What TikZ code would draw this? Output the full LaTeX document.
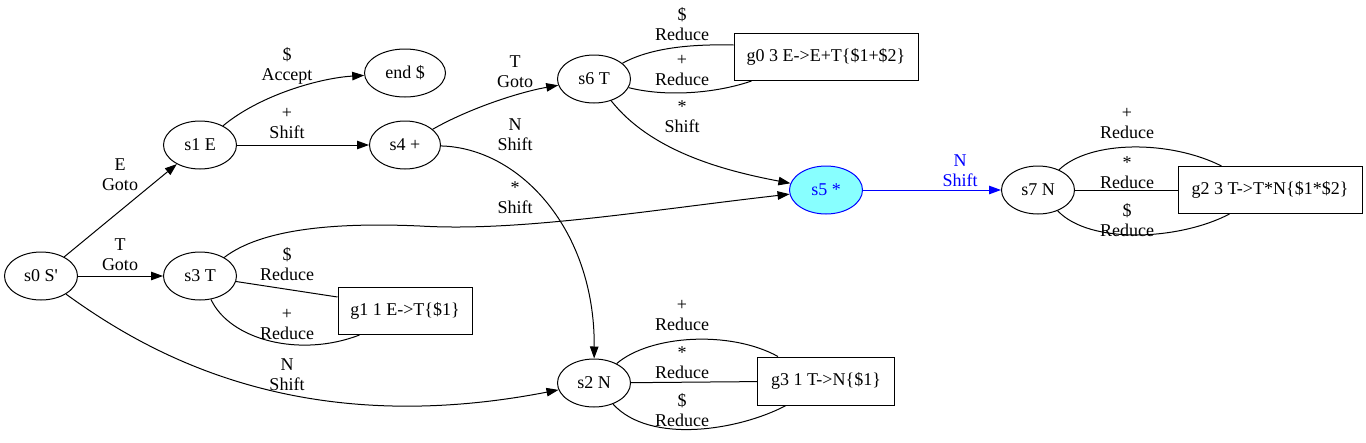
\documentclass[tikz,border=0pt]{standalone}
\usepackage{fontspec}
\setmainfont{Liberation Serif}
\usetikzlibrary{arrows.meta,calc,shapes.geometric}
\definecolor{sfill}{RGB}{136,255,255}
\begin{document}
\begin{tikzpicture}[x=1pt,y=-1pt,line width=1pt,
  every node/.style={font=\fontsize{18}{20}\selectfont},
  st/.style={draw,ellipse,minimum width=73pt,minimum height=48pt,inner sep=0pt},
  gbox/.style={draw,rectangle,minimum height=47pt,inner sep=0pt},
  lbl/.style={align=center,inner sep=0pt},
  arr/.style={-{Triangle[length=12pt,width=8.5pt]}},
  ]
\useasboundingbox (0,0) rectangle (1366,442);
% states
\node[st] (s0) at (41,276) {s0 S\textquotesingle};
\node[st] (s1) at (200,145) {s1 E};
\node[st] (s3) at (200,276) {s3 T};
\node[st,minimum width=81pt] (end) at (405,73) {end \$};
\node[st,minimum width=71pt] (s4) at (405,145) {s4 +};
\node[st] (s6) at (594,79) {s6 T};
\node[st,draw=blue,fill=sfill,text=blue] (s5) at (826,190) {s5 *};
\node[st] (s7) at (1038,190) {s7 N};
\node[st] (s2) at (594,383) {s2 N};
% reduce boxes
\node[gbox,minimum width=184pt] (g0) at (826,57) {g0 3 E->E+T\{\$1+\$2\}};
\node[gbox,minimum width=134pt] (g1) at (405,311) {g1 1 E->T\{\$1\}};
\node[gbox,minimum width=184pt] (g2) at (1270,190) {g2 3 T->T*N\{\$1*\$2\}};
\node[gbox,minimum width=137pt,minimum height=48pt] (g3) at (826,381) {g3 1 T->N\{\$1\}};
% edges from s0
\draw[arr] (s0) -- (s1);
\draw[arr] (s0) -- (s3);
\draw[arr] (s0) .. controls (150,355) and (300,440) .. (s2);
% s1
\draw[arr] (s1) .. controls (260,95) and (320,78) .. (end);
\draw[arr] (s1) -- (s4);
% s3
\draw[arr] (s3) .. controls (260,230) and (330,222) .. (420,226) .. controls (520,232) and (650,210) .. (s5);
\draw (s3) -- ($(g1.north west)+(0,10)$);
\draw (s3) .. controls (230,340) and (300,358) .. ($(g1.south west)+(22,0)$);
% s4
\draw[arr] (s4) .. controls (470,108) and (520,92) .. (s6);
\draw[arr] (s4) .. controls (520,148) and (595,230) .. (s2);
% s6
\draw (s6) .. controls (650,48) and (690,44) .. ($(g0.north west)+(0,12)$);
\draw (s6) .. controls (670,98) and (720,92) .. ($(g0.south west)+(18,0)$);
\draw[arr] (s6) .. controls (650,150) and (720,170) .. (s5);
% s5
\draw[arr,blue] (s5) -- (s7);
% s7
\draw (s7) .. controls (1090,140) and (1170,140) .. ($(g2.north west)+(44,0)$);
\draw (s7) -- (g2);
\draw (s7) .. controls (1090,245) and (1180,240) .. ($(g2.south west)+(52,0)$);
% s2
\draw (s2) .. controls (650,335) and (730,330) .. ($(g3.north west)+(21,0)$);
\draw (s2) -- (g3);
\draw (s2) .. controls (650,445) and (740,430) .. ($(g3.south west)+(29,0)$);
% labels
\node[lbl] (l1) at (120,175) {E\\Goto};
\node[lbl] (l2) at (120,255) {T\\Goto};
\node[lbl] (l3) at (287,375) {N\\Shift};
\node[lbl] (l4) at (287,66) {\$\\Accept};
\node[lbl] (l5) at (287,124) {+\\Shift};
\node[lbl] (l6) at (287,264) {\$\\Reduce};
\node[lbl] (l7) at (287,324) {+\\Reduce};
\node[lbl] (l8) at (515,72) {T\\Goto};
\node[lbl] (l9) at (515,135) {N\\Shift};
\node[lbl] (l10) at (515,198) {*\\Shift};
\node[lbl] (l11) at (682,24) {\$\\Reduce};
\node[lbl] (l12) at (682,71) {+\\Reduce};
\node[lbl] (l13) at (682,117) {*\\Shift};
\node[lbl,text=blue] (l14) at (960,171) {N\\Shift};
\node[lbl] (l15) at (1127,124) {+\\Reduce};
\node[lbl] (l16) at (1127,173) {*\\Reduce};
\node[lbl] (l17) at (1127,220) {\$\\Reduce};
\node[lbl] (l18) at (682,315) {+\\Reduce};
\node[lbl] (l19) at (682,363) {*\\Reduce};
\node[lbl] (l20) at (682,410) {\$\\Reduce};
\end{tikzpicture}
\end{document}
